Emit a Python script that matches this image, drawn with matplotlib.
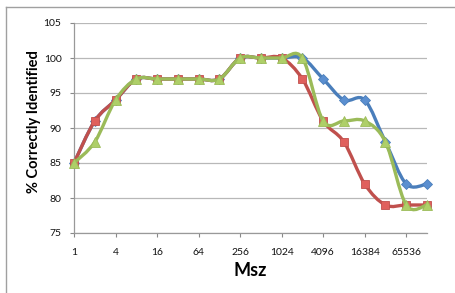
import numpy as np
import matplotlib
matplotlib.use("Agg")
import matplotlib.pyplot as plt
from matplotlib.path import Path
from matplotlib.patches import PathPatch
from matplotlib.lines import Line2D

## data
msz = [2 ** i for i in range(18)]
blue_vals = [85, 91, 94, 97, 97, 97, 97, 97, 100, 100, 100, 100, 97, 94, 94, 88, 82, 82]
red_vals = [85, 91, 94, 97, 97, 97, 97, 97, 100, 100, 100, 97, 91, 88, 82, 79, 79, 79]
green_vals = [85, 88, 94, 97, 97, 97, 97, 97, 100, 100, 100, 100, 91, 91, 91, 88, 79, 79]
xtick_vals = [1, 4, 16, 64, 256, 1024, 4096, 16384, 65536]
yticks = [75, 80, 85, 90, 95, 100, 105]

plt.rcParams['font.family'] = ['Lato', 'DejaVu Sans']


## smooth (Excel-like) bezier through points, built in log2(x)/y space
def smooth_path(xs, ys):
    lx = np.log2(xs)
    pts = np.column_stack([lx, ys]).astype(float)
    n = len(pts)
    verts = [pts[0]]
    codes = [Path.MOVETO]
    for i in range(n - 1):
        p0 = pts[max(i - 1, 0)]
        p1 = pts[i]
        p2 = pts[i + 1]
        p3 = pts[min(i + 2, n - 1)]
        c1 = p1 + (p2 - p0) / 6.0
        c2 = p2 - (p3 - p1) / 6.0
        verts += [c1, c2, p2]
        codes += [Path.CURVE4] * 3
    verts = np.array(verts)
    verts[:, 0] = 2 ** verts[:, 0]
    return Path(verts, codes)


fig = plt.figure(figsize=(4.55, 2.93), dpi=100)
ax = fig.add_axes([74 / 455, 1 - 233 / 293, 353 / 455, 210 / 293])

ax.set_xscale('log', base=2)
ax.set_xlim(1, 131072)
ax.set_ylim(75, 105)

series = [
    (blue_vals, '#4A7EBB', '#5B8FD0', 'D', 5.2),
    (red_vals, '#C0504D', '#E0605D', 's', 6.3),
    (green_vals, '#9BBB59', '#AECF68', '^', 6.8),
]
for z, (vals, col, face, mk, ms) in enumerate(series):
    patch = PathPatch(smooth_path(msz, vals), facecolor='none', edgecolor=col,
                      lw=2.4, capstyle='round', joinstyle='round', zorder=3 + z)
    ax.add_patch(patch)
    ax.plot(msz, vals, linestyle='none', marker=mk, markersize=ms,
            markerfacecolor=face, markeredgecolor=col, markeredgewidth=0.6,
            zorder=3.5 + z, clip_on=False)

ax.set_yticks(yticks)
ax.set_xticks(xtick_vals)
ax.set_xticklabels([str(v) for v in xtick_vals])
ax.xaxis.set_minor_locator(matplotlib.ticker.NullLocator())
ax.tick_params(axis='both', labelsize=7.5, color='#888888', length=3, width=0.8,
               labelcolor='#111111')
ax.tick_params(axis='x', pad=8)
ax.tick_params(axis='y', pad=6)

ax.grid(axis='y', color='#b8b8b8', lw=0.9)
ax.set_axisbelow(True)
for s in ['top', 'right']:
    ax.spines[s].set_visible(False)
for s in ['left', 'bottom']:
    ax.spines[s].set_color('#999999')
    ax.spines[s].set_linewidth(0.9)

ax.set_ylabel('% Correctly Identified', fontsize=10.5, fontweight='bold',
              va='center', ha='center')
ax.yaxis.set_label_coords((34 - 74) / 353, (233 - 122) / 210)
ax.set_xlabel('Msz', fontsize=13, fontweight='bold', va='center', ha='center')
ax.xaxis.set_label_coords((250 - 74) / 353, (233 - 270) / 210)

# chart area border (only left and top visible)
fig.add_artist(Line2D([5.5 / 455, 5.5 / 455], [0, 1 - 7 / 293], transform=fig.transFigure,
                      color='#a0a0a0', lw=1.0))
fig.add_artist(Line2D([5.5 / 455, 1], [1 - 7 / 293, 1 - 7 / 293], transform=fig.transFigure,
                      color='#a0a0a0', lw=1.0))

fig.savefig('out.png', dpi=100)
